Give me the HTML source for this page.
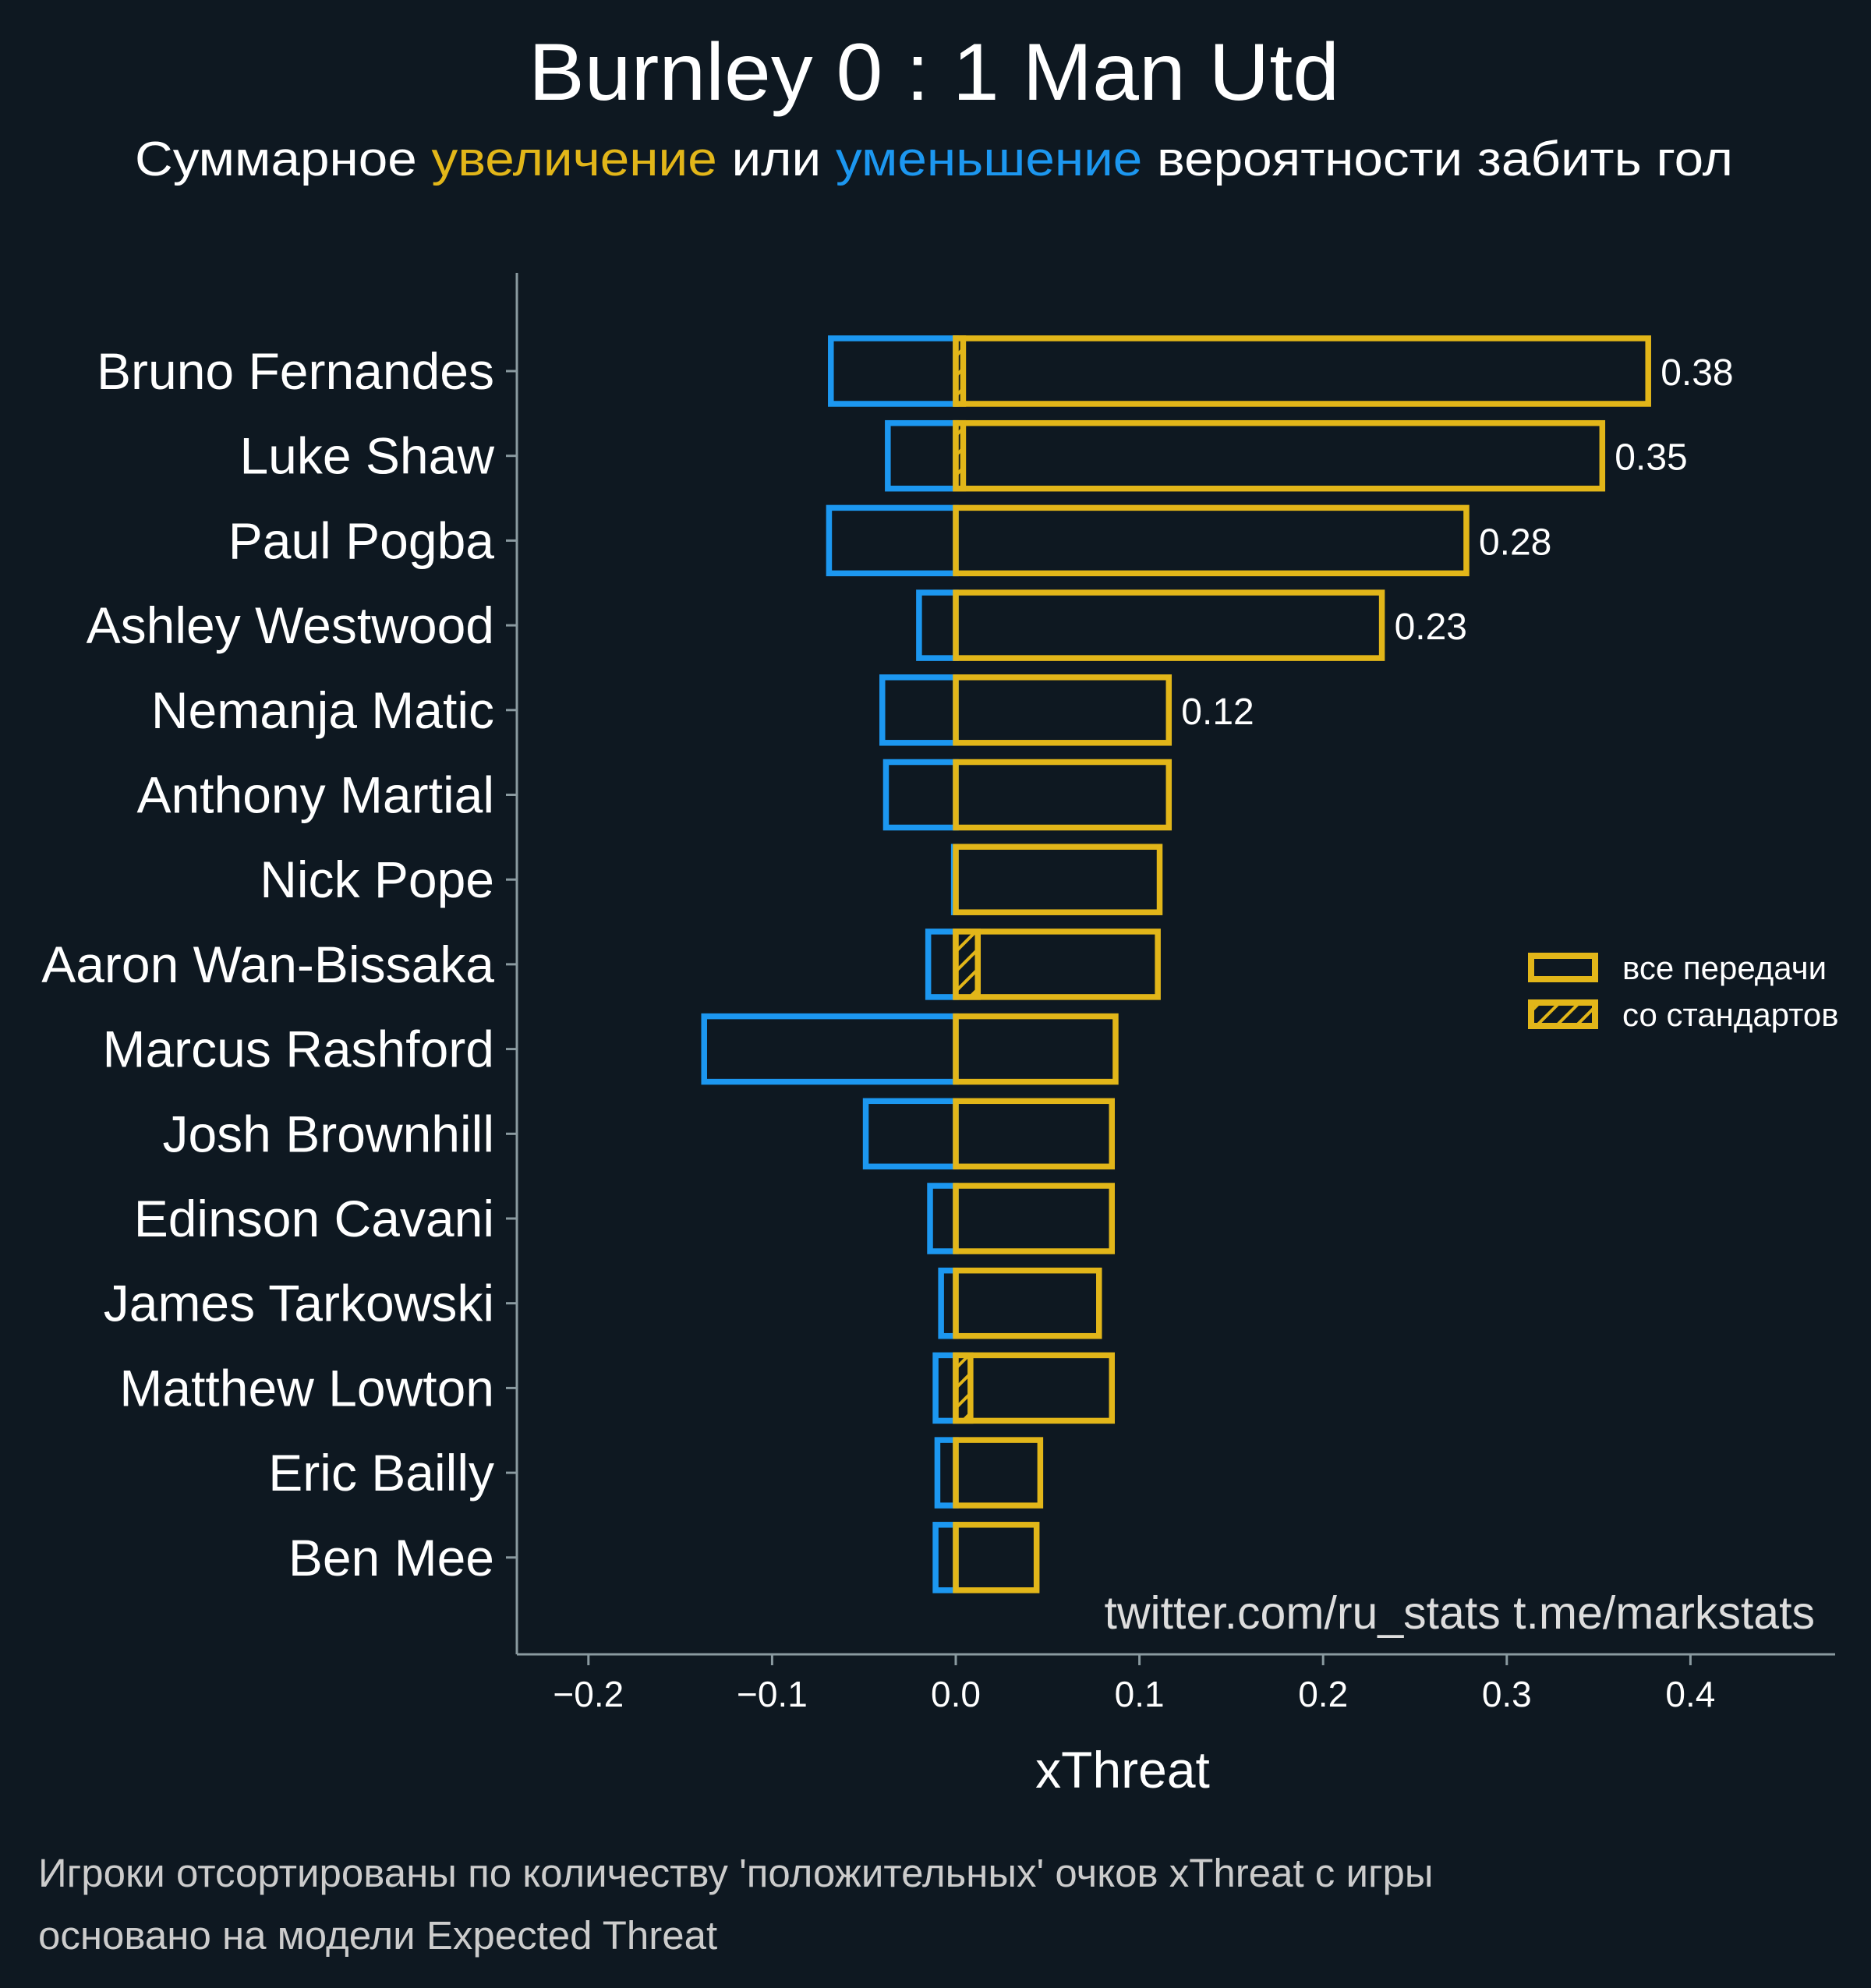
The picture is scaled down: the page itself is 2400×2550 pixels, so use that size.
<!DOCTYPE html>
<html><head><meta charset="utf-8">
<style>
html,body{margin:0;padding:0;background:#0e1821;}
svg{display:block;font-family:"Liberation Sans",sans-serif;}
</style></head>
<body>
<svg id="chart" width="2400" height="2550" viewBox="0 0 2400 2550" xmlns="http://www.w3.org/2000/svg">
<defs>
<pattern id="hatch" patternUnits="userSpaceOnUse" width="18" height="18" patternTransform="rotate(45)">
<rect width="18" height="18" fill="#0e1821"/>
<line x1="0" y1="0" x2="0" y2="18" stroke="#e2b619" stroke-width="8"/>
</pattern>
</defs>
<rect width="2400" height="2550" fill="#0e1821"/>
<text x="1198" y="128" text-anchor="middle" font-size="104" fill="#ffffff" textLength="1040" lengthAdjust="spacingAndGlyphs">Burnley 0 : 1 Man Utd</text>
<text x="1198" y="225" text-anchor="middle" font-size="62" fill="#ffffff" textLength="2050" lengthAdjust="spacingAndGlyphs">Суммарное <tspan fill="#e2b619">увеличение</tspan> или <tspan fill="#1c97f0">уменьшение</tspan> вероятности забить гол</text>
<g id="plot"></g>
<text x="2328" y="2089" text-anchor="end" font-size="59" fill="#dddddd">twitter.com/ru_stats  t.me/markstats</text>
<text x="1440" y="2293" text-anchor="middle" font-size="66" fill="#ffffff">xThreat</text>
<text x="49" y="2420" font-size="51" fill="#cccccc">Игроки отсортированы по количеству 'положительных' очков xThreat с игры</text>
<text x="49" y="2500" font-size="51" fill="#cccccc">основано на модели Expected Threat</text>
<g>
<rect x="1964" y="1226" width="82" height="30" fill="none" stroke="#e2b619" stroke-width="8"/>
<text x="2081" y="1256" font-size="42" fill="#ffffff">все передачи</text>
<rect x="1964" y="1286" width="82" height="30" fill="url(#hatch)" stroke="#e2b619" stroke-width="8"/>
<text x="2081" y="1316" font-size="42" fill="#ffffff">со стандартов</text>
</g>
</svg>
<script>
const players = ["Bruno Fernandes","Luke Shaw","Paul Pogba","Ashley Westwood","Nemanja Matic","Anthony Martial","Nick Pope","Aaron Wan-Bissaka","Marcus Rashford","Josh Brownhill","Edinson Cavani","James Tarkowski","Matthew Lowton","Eric Bailly","Ben Mee"];
const positiveXT = [0.377,0.352,0.278,0.232,0.116,0.116,0.111,0.110,0.087,0.085,0.085,0.078,0.085,0.046,0.044];
const negativeXT = [-0.068,-0.037,-0.069,-0.020,-0.040,-0.038,-0.001,-0.015,-0.137,-0.049,-0.014,-0.008,-0.011,-0.010,-0.011];
const setPieceXT = [0.004,0.004,0,0,0,0,0,0.012,0,0,0,0,0.008,0,0];
const valueLabels = ["0.38","0.35","0.28","0.23","0.12"];
const xTicks = [-0.2,-0.1,0.0,0.1,0.2,0.3,0.4];
const xTickLabels = ["\u22120.2","\u22120.1","0.0","0.1","0.2","0.3","0.4"];

const NS="http://www.w3.org/2000/svg";
const plot=document.getElementById('plot');
const X0=1226, SCALE=2356;
function xs(v){return X0+v*SCALE;}
function ys(i){return 476+i*108.7;}
const BH=84;
function mk(tag,attrs){const e=document.createElementNS(NS,tag);for(const k in attrs)e.setAttribute(k,attrs[k]);plot.appendChild(e);return e;}

let s=mk('line',{x1:663,y1:350,x2:663,y2:2122,stroke:'#8a9aa0','stroke-width':3});


s=mk('line',{x1:663,y1:2122,x2:2354,y2:2122,stroke:'#8a9aa0','stroke-width':3});



xTicks.forEach((t,i)=>{
  const x=xs(t);
  const tk=mk('line',{x1:x,y1:2122,x2:x,y2:2136,stroke:'#8a9aa0','stroke-width':3});
  
  
  const tl=mk('text',{x:x,y:2189,'text-anchor':'middle','font-size':46,fill:'#ffffff'});
  tl.textContent=xTickLabels[i];
  
  
});

players.forEach((p,i)=>{
  const y=ys(i);
  const tk=mk('line',{x1:649,y1:y,x2:663,y2:y,stroke:'#8a9aa0','stroke-width':3});
  
  
  const lb=mk('text',{x:634,y:y+23,'text-anchor':'end','font-size':66,fill:'#ffffff'});
  lb.textContent=p;
  
  

  const n=negativeXT[i];
  const nb=mk('rect',{x:xs(n),y:y-BH/2,width:Math.max(0,xs(0)-xs(n)),height:BH,fill:'none',stroke:'#1c97f0','stroke-width':7.5});
  
  

  const v=positiveXT[i];
  const pb=mk('rect',{x:xs(0),y:y-BH/2,width:xs(v)-xs(0),height:BH,fill:'none',stroke:'#e2b619','stroke-width':7.5});
  
  

  const sp=setPieceXT[i];
  if(sp>0){
    const sb=mk('rect',{x:xs(0),y:y-BH/2,width:xs(sp)-xs(0),height:BH,fill:'url(#hatch)',stroke:'#e2b619','stroke-width':7.5});
    
    
  }
  if(i<valueLabels.length){
    const vl=mk('text',{x:xs(v)+16,y:y+18,'font-size':48,fill:'#ffffff'});
    vl.textContent=valueLabels[i];
    
    
  }
});
</script>
</body></html>
